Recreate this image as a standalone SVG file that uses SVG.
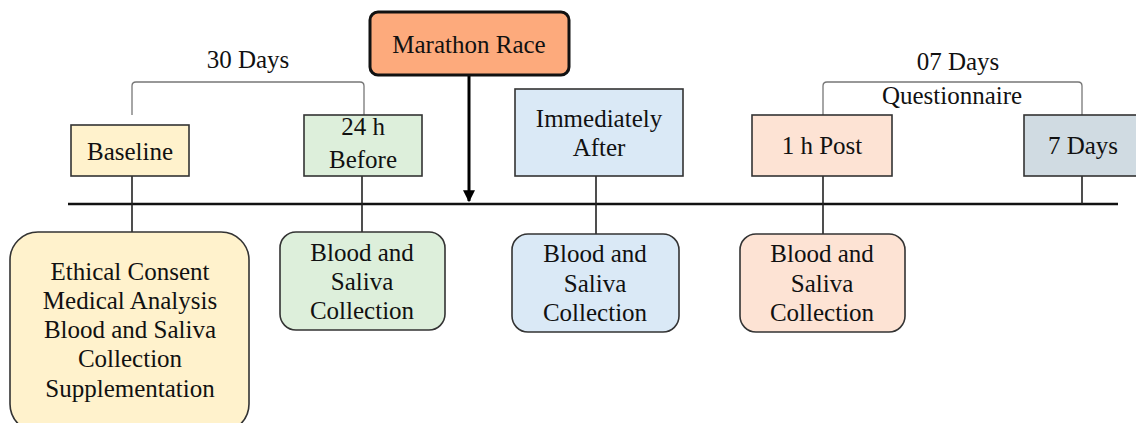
<svg xmlns="http://www.w3.org/2000/svg" width="1136" height="423" viewBox="0 0 1136 423">
<style>
text{font-family:"Liberation Serif","Times New Roman",serif;font-size:25px;fill:#111;text-anchor:middle}
.box{stroke:#333;stroke-width:1.6}
.ln{stroke:#222;stroke-width:1.6;fill:none}
.br{stroke:#777;stroke-width:1.3;fill:none}
</style>
<defs>
<marker id="ah" viewBox="0 0 10 10" refX="9" refY="5" markerWidth="4" markerHeight="4" orient="auto" markerUnits="strokeWidth">
<path d="M0,0 L10,5 L0,10 z" fill="#000"/>
</marker>
</defs>
<g id="connectors">
<line x1="68" y1="204" x2="1118" y2="204" stroke="#111" stroke-width="2.5"/>
<line x1="469" y1="75" x2="469" y2="201" stroke="#000" stroke-width="3" marker-end="url(#ah)"/>
<line class="ln" x1="132" y1="176" x2="132" y2="232"/>
<line class="ln" x1="362" y1="176" x2="362" y2="232"/>
<line class="ln" x1="596" y1="176" x2="596" y2="234"/>
<line class="ln" x1="823" y1="176" x2="823" y2="234"/>
<line class="ln" x1="1082" y1="176" x2="1082" y2="204"/>
<path class="br" d="M132,115 V86 Q132,82 136,82 H360 Q364,82 364,86 V115"/>
<path class="br" d="M823,115 V86 Q823,82 827,82 H1078 Q1082,82 1082,86 V115"/>
</g>
<g id="label-30days"><text x="248" y="68">30 Days</text></g>
<g id="label-07days"><text x="958" y="70">07 Days</text><text x="952" y="104">Questionnaire</text></g>
<g id="marathon">
<rect x="370" y="12" width="199" height="63" rx="8" fill="#FDAA7C" stroke="#111" stroke-width="3"/>
<text x="469" y="53">Marathon Race</text>
</g>
<g id="baseline">
<rect class="box" x="71" y="125" width="118" height="51" fill="#FFF2CC"/>
<text x="130" y="160">Baseline</text>
</g>
<g id="before24h">
<rect class="box" x="304" y="115" width="118" height="61" fill="#DDEFDB"/>
<text x="363" y="135">24 h</text><text x="363" y="168">Before</text>
</g>
<g id="immediately">
<rect class="box" x="515" y="89" width="168" height="87" fill="#DAE9F6"/>
<text x="599" y="127">Immediately</text><text x="599" y="156">After</text>
</g>
<g id="post1h">
<rect class="box" x="752" y="115" width="140" height="61" fill="#FDE3D4"/>
<text x="822" y="154">1 h Post</text>
</g>
<g id="days7">
<rect class="box" x="1024" y="115" width="120" height="61" fill="#D0DBE2"/>
<text x="1083" y="154">7 Days</text>
</g>
<g id="ethical">
<rect class="box" x="10" y="232" width="239" height="200" rx="28" fill="#FFF2CC"/>
<text x="130" y="280">Ethical Consent</text>
<text x="130" y="309">Medical Analysis</text>
<text x="130" y="338">Blood and Saliva</text>
<text x="130" y="367">Collection</text>
<text x="130" y="397">Supplementation</text>
</g>
<g id="collect-before">
<rect class="box" x="280" y="232" width="165" height="98" rx="16" fill="#DDEFDB"/>
<text x="362" y="261">Blood and</text><text x="362" y="290">Saliva</text><text x="362" y="319">Collection</text>
</g>
<g id="collect-after">
<rect class="box" x="512" y="234" width="167" height="98" rx="16" fill="#DAE9F6"/>
<text x="595" y="262">Blood and</text><text x="595" y="292">Saliva</text><text x="595" y="321">Collection</text>
</g>
<g id="collect-post">
<rect class="box" x="740" y="234" width="165" height="98" rx="16" fill="#FDE3D4"/>
<text x="822" y="262">Blood and</text><text x="822" y="292">Saliva</text><text x="822" y="321">Collection</text>
</g>
</svg>
